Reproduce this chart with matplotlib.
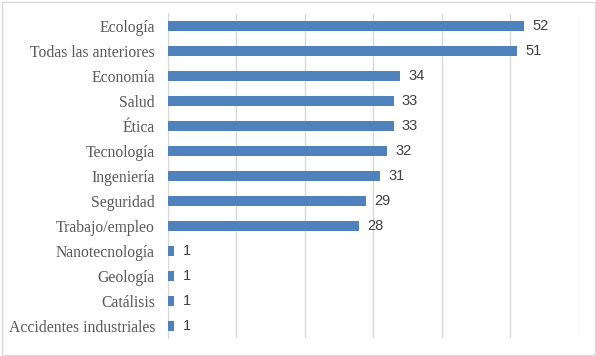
import matplotlib
matplotlib.use("Agg")
import matplotlib.pyplot as plt
from matplotlib.patches import Rectangle

categories = ["Ecología", "Todas las anteriores", "Economía", "Salud", "Ética",
              "Tecnología", "Ingeniería", "Seguridad", "Trabajo/empleo",
              "Nanotecnología", "Geología", "Catálisis", "Accidentes industriales"]
values = [52, 51, 34, 33, 33, 32, 31, 29, 28, 1, 1, 1, 1]

W, H = 596, 356
fig = plt.figure(figsize=(W / 100, H / 100), dpi=100)
ax = fig.add_axes([167.5 / W, 1 - 338 / H, (578.5 - 167.5) / W, (338 - 13.5) / H])

y = list(range(len(categories)))
ax.barh(y, values, height=0.4, color="#4F81BD", zorder=3)
ax.set_ylim(len(categories) - 0.5, -0.5)
ax.set_xlim(0, 60)
ax.set_xticks(range(0, 61, 10))
ax.tick_params(axis="x", length=0, labelbottom=False)
ax.tick_params(axis="y", length=0, pad=9)
ax.set_yticks(y)
ax.set_yticklabels(categories, fontfamily="Liberation Serif", fontsize=11.3, color="#595959")
ax.grid(axis="x", color="#D9D9D9", linewidth=1, zorder=0)
for s in ["top", "right", "bottom"]:
    ax.spines[s].set_visible(False)
ax.spines["left"].set_color("#D9D9D9")

for yi, v in zip(y, values):
    ax.annotate(str(v), (v, yi), xytext=(6, 0), textcoords="offset points",
                va="center", ha="left", fontsize=10.5, color="#404040",
                fontfamily="Liberation Sans")

fig.patches.append(Rectangle((1.5 / W, 1.5 / H), (W - 3) / W, (H - 3) / H,
                             transform=fig.transFigure, fill=False,
                             edgecolor="#D9D9D9", linewidth=1))
fig.savefig("out.png", dpi=100)
